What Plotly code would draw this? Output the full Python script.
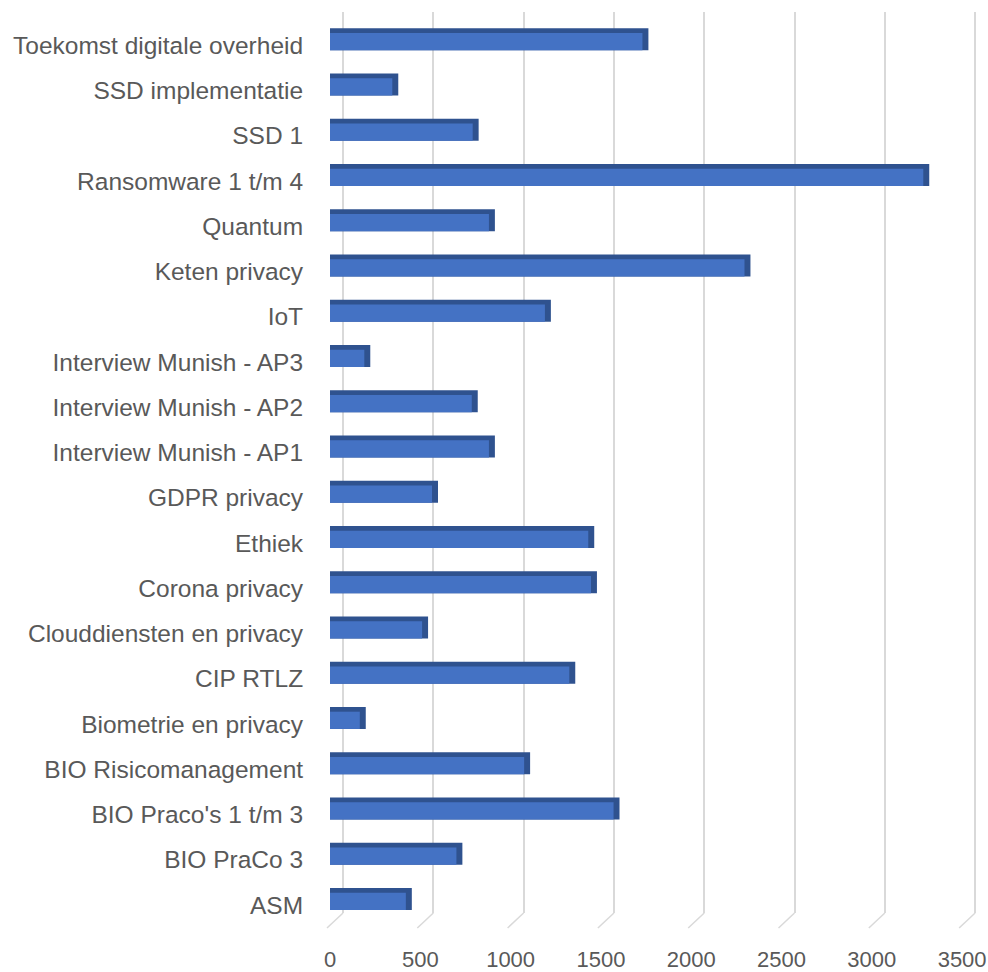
import plotly.graph_objects as go

# Data (bottom-to-top order, as in the source sheet)
categories = [
    "ASM",
    "BIO PraCo 3",
    "BIO Praco's 1 t/m 3",
    "BIO Risicomanagement",
    "Biometrie en privacy",
    "CIP RTLZ",
    "Clouddiensten en privacy",
    "Corona privacy",
    "Ethiek",
    "GDPR privacy",
    "Interview Munish - AP1",
    "Interview Munish - AP2",
    "Interview Munish - AP3",
    "IoT",
    "Keten privacy",
    "Quantum",
    "Ransomware 1 t/m 4",
    "SSD 1",
    "SSD implementatie",
    "Toekomst digitale overheid",
]
values = [420, 700, 1570, 1075, 165, 1325, 510, 1445, 1430, 565,
          880, 785, 190, 1190, 2295, 880, 3285, 790, 345, 1730]
tick_values = [0, 500, 1000, 1500, 2000, 2500, 3000, 3500]
tick_labels = ["0", "500", "1000", "1500", "2000", "2500", "3000", "3500"]

# Styling constants (pseudo-3D look)
FACE = "#4472C4"
DARK = "#2F528F"
SIDE_DEPTH = 33      # x-units of the bar's right side face
FLOOR_DEPTH = 88.6   # x-units of floor diagonal offset
TEXT = "#595959"
FONT = "Liberation Sans"

fig = go.Figure()

# dark body (top face + right side)
fig.add_trace(go.Bar(
    y=categories, x=[v + SIDE_DEPTH for v in values], orientation="h",
    marker=dict(color=DARK, line=dict(width=0)),
    width=0.486, offset=-0.11, xaxis="x", yaxis="y",
    hoverinfo="skip", showlegend=False,
))
# front face
fig.add_trace(go.Bar(
    y=categories, x=values, orientation="h",
    marker=dict(color=FACE, line=dict(width=0)),
    width=0.382, offset=-0.11, xaxis="x", yaxis="y",
    showlegend=False,
))
# invisible trace to activate the back-wall grid axis
fig.add_trace(go.Scatter(
    x=[tick_values[0]], y=[categories[0]], xaxis="x2", yaxis="y",
    mode="markers", marker=dict(opacity=0), hoverinfo="skip", showlegend=False,
))

# floor diagonals from the back-wall gridlines toward the front
shapes = []
for t in tick_values:
    shapes.append(dict(
        type="line", xref="x2", yref="paper",
        x0=t, y0=0, x1=t - FLOOR_DEPTH, y1=-0.0166,
        line=dict(color="#D9D9D9", width=1.5), layer="below",
    ))

fig.update_layout(
    width=988, height=972,
    margin=dict(l=322, r=8, t=12, b=59),
    paper_bgcolor="white", plot_bgcolor="white",
    barmode="overlay",
    font=dict(family=FONT, color=TEXT),
    xaxis=dict(
        range=[-44.3, 3599], showgrid=False, zeroline=False, showline=False,
        tickmode="array", tickvals=tick_values, ticktext=tick_labels,
        ticks="outside", ticklen=27, tickcolor="rgba(0,0,0,0)",
        tickfont=dict(size=22, color=TEXT, family=FONT), automargin=False,
    ),
    xaxis2=dict(
        overlaying="x", side="bottom",
        range=[-116.3, 3527], showgrid=True, gridcolor="#D9D9D9", gridwidth=1.6,
        tickmode="array", tickvals=tick_values,
        zeroline=False, showline=False, showticklabels=False, ticks="",
        automargin=False,
    ),
    yaxis=dict(
        type="category", categoryorder="array", categoryarray=categories,
        range=[-0.177, 19.735], showgrid=False, zeroline=False, showline=False,
        ticks="outside", ticklen=13, tickcolor="rgba(0,0,0,0)",
        tickfont=dict(size=24.5, color=TEXT, family=FONT), automargin=False,
    ),
    shapes=shapes,
)

fig.write_html(
    "out.html",
    config={"displayModeBar": False},
    post_script="document.body.style.margin='0px';",
)
